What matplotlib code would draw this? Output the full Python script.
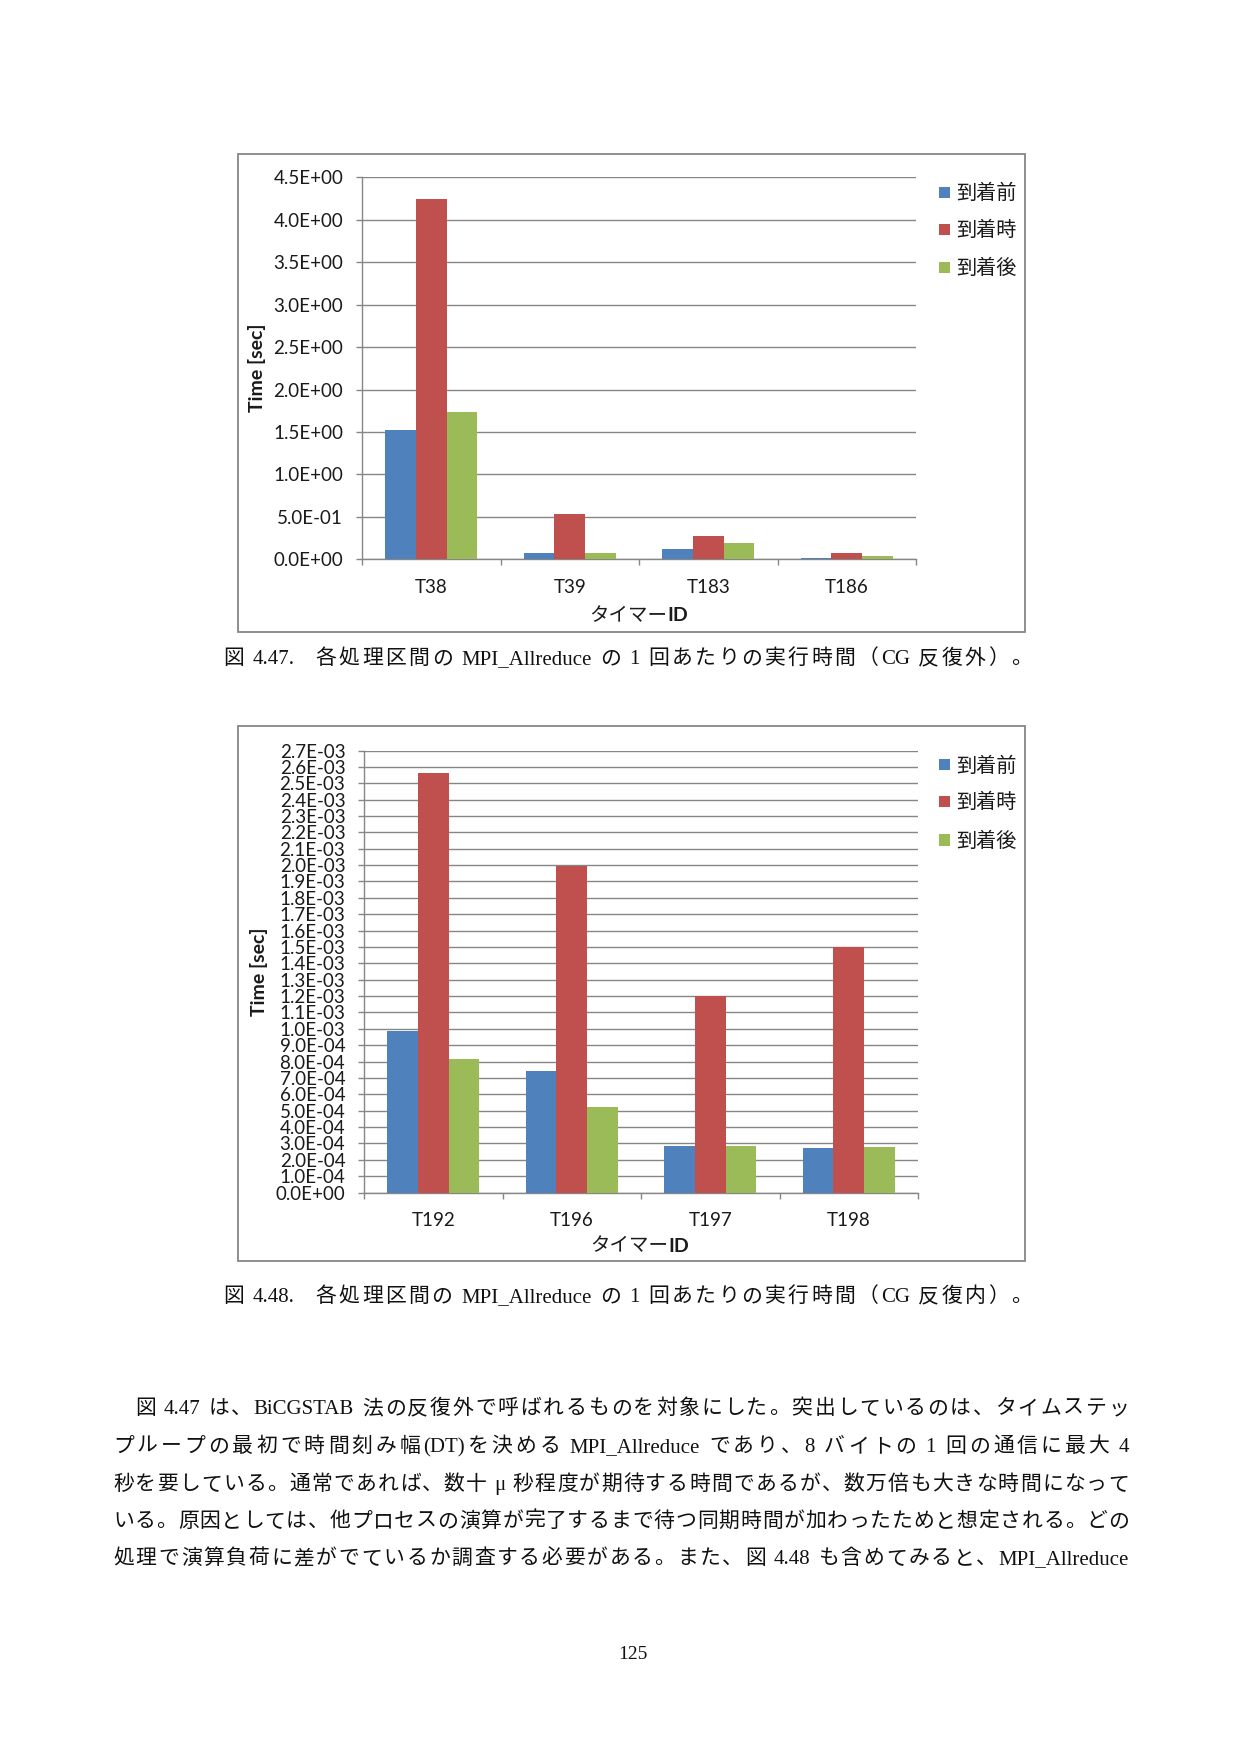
import matplotlib
matplotlib.use('Agg')
import matplotlib.pyplot as plt
from matplotlib.patches import Rectangle
from matplotlib.ticker import FixedLocator
import numpy as np

W, H = 1241, 1755

# ---------------- data ----------------
series = ['到着前', '到着時', '到着後']
colors = ['#4F81BD', '#C0504D', '#9BBB59']

timers_a = ['T38', 'T39', 'T183', 'T186']
before_a = [1.523, 0.075, 0.122, 0.016]
during_a = [4.244, 0.534, 0.275, 0.075]
after_a = [1.735, 0.075, 0.192, 0.039]
yticks_a = [0.0, 0.5, 1.0, 1.5, 2.0, 2.5, 3.0, 3.5, 4.0, 4.5]

timers_b = ['T192', 'T196', 'T197', 'T198']
before_b = [0.986e-3, 0.741e-3, 0.285e-3, 0.272e-3]
during_b = [2.563e-3, 1.995e-3, 1.200e-3, 1.500e-3]
after_b = [0.816e-3, 0.523e-3, 0.285e-3, 0.279e-3]
yticks_b = [i * 1e-4 for i in range(28)]

xlabel_kana = 'タイマー'
xlabel_id = 'ID'
ylabel = 'Time [sec]'

caption_a = '図 4.47.   各処理区間の MPI_Allreduce の 1 回あたりの実行時間（CG 反復外）。'
caption_b = '図 4.48.   各処理区間の MPI_Allreduce の 1 回あたりの実行時間（CG 反復内）。'
paragraph = [
    '図 4.47 は、BiCGSTAB 法の反復外で呼ばれるものを対象にした。突出しているのは、タイムステッ',
    'プループの最初で時間刻み幅(DT)を決める MPI_Allreduce であり、8 バイトの 1 回の通信に最大 4',
    '秒を要している。通常であれば、数十 μ 秒程度が期待する時間であるが、数万倍も大きな時間になって',
    'いる。原因としては、他プロセスの演算が完了するまで待つ同期時間が加わったためと想定される。どの',
    '処理で演算負荷に差がでているか調査する必要がある。また、図 4.48 も含めてみると、MPI_Allreduce',
]
page_no = '125'

# ---------------- styling ----------------
SANS = ['Lato', 'Noto Sans CJK JP', 'DejaVu Sans']
SERIF = ['Liberation Serif', 'Noto Sans CJK JP', 'DejaVu Sans']
GRID = '#868686'
TXT = '#1a1a1a'
plt.rcParams['font.family'] = SANS

fig = plt.figure(figsize=(W / 100, H / 100), dpi=100)
fig.patch.set_facecolor('white')
renderer = fig.canvas.get_renderer()


def rect(l, t, r, b):
    return [l / W, 1 - b / H, (r - l) / W, (b - t) / H]


def fx(x):
    return x / W


def fy(y):
    return 1 - y / H


def chart(box, axrect, cats, vals, yticks, ylim, ylab_pos, xlab_pos, legend_x, legend_ys):
    l, t, r, b = box
    fig.patches.append(Rectangle((fx(l), fy(b)), (r - l) / W, (b - t) / H,
                                 transform=fig.transFigure, fill=False,
                                 edgecolor=GRID, linewidth=1.3))
    ax = fig.add_axes(rect(*axrect))
    x = np.arange(len(cats))
    w = 0.222
    for i, (v, c) in enumerate(zip(vals, colors)):
        ax.bar(x + (i - 1) * w, v, width=w, color=c, edgecolor='none', zorder=3)
    ax.set_xlim(-0.5, len(cats) - 0.5)
    ax.set_ylim(*ylim)
    ax.yaxis.set_major_locator(FixedLocator(yticks))
    ax.set_yticklabels([f'{v:.1E}' for v in yticks], fontsize=13.5, color=TXT)
    ax.set_xticks(x)
    ax.set_xticklabels(cats, fontsize=13.5, color=TXT)
    ax.xaxis.set_minor_locator(FixedLocator(np.arange(-0.5, len(cats), 1.0)))
    ax.tick_params(axis='x', which='major', length=0, pad=14)
    ax.tick_params(axis='x', which='minor', length=4.5, color=GRID, width=1.0, direction='out')
    ax.tick_params(axis='y', which='major', length=4, color=GRID, width=1.0, pad=9.5)
    ax.yaxis.grid(True, color=GRID, linewidth=1.0)
    ax.set_axisbelow(True)
    for s in ['top', 'right']:
        ax.spines[s].set_visible(False)
    for s in ['left', 'bottom']:
        ax.spines[s].set_color(GRID)
        ax.spines[s].set_linewidth(1.0)
    ax.set_facecolor('white')
    # axis titles
    fig.text(fx(ylab_pos[0]), fy(ylab_pos[1]), ylabel, rotation=90, ha='center', va='center',
             fontsize=14, fontweight='bold', color=TXT)
    t1 = fig.text(0, fy(xlab_pos[1]), xlabel_kana, ha='left', va='center',
                  fontsize=14, color=TXT)
    t2 = fig.text(0, fy(xlab_pos[1]), xlabel_id, ha='left', va='center',
                  fontsize=14, fontweight='bold', color=TXT)
    w1 = t1.get_window_extent(renderer).width
    w2 = t2.get_window_extent(renderer).width
    x0 = xlab_pos[0] - (w1 + w2) / 2
    t1.set_x(fx(x0))
    t2.set_x(fx(x0 + w1))
    # legend
    for name, c, yy in zip(series, colors, legend_ys):
        fig.patches.append(Rectangle((fx(legend_x), fy(yy + 5.5)), 11 / W, 11 / H,
                                     transform=fig.transFigure, facecolor=c, edgecolor='none'))
        fig.text(fx(legend_x + 17), fy(yy), name, ha='left', va='center',
                 fontsize=14.5, color=TXT)
    return ax


chart((238, 154, 1025, 632), (362, 177.3, 916, 559.3), timers_a,
      [before_a, during_a, after_a], yticks_a, (0, 4.5),
      (256.5, 368), (639, 615.5), 939, [192.7, 229.3, 267.7])
chart((238, 726, 1025, 1261), (364, 750.5, 918, 1192.6), timers_b,
      [before_b, during_b, after_b], yticks_b, (0, 2.7e-3),
      (259, 972), (640, 1246), 939, [765, 801, 840])


def tokenize(s):
    toks = []
    cur = ''
    spaces = 0
    for ch in s:
        if ch == ' ':
            if cur:
                toks.append((cur, spaces))
                cur = ''
                spaces = 0
            spaces += 1
        elif ord(ch) < 128:
            cur += ch
        else:
            if cur:
                toks.append((cur, spaces))
                cur = ''
                spaces = 0
            toks.append((ch, spaces))
            spaces = 0
    if cur:
        toks.append((cur, spaces))
    return toks


def justified(s, x0, x1, ybase, fontsize, family):
    toks = tokenize(s)
    sp = fontsize * 100 / 72 * 0.3
    objs = []
    widths = []
    for tok, _ in toks:
        t = fig.text(0, fy(ybase), tok, ha='left', va='baseline', fontsize=fontsize,
                     family=family, color='#111111')
        objs.append(t)
        widths.append(t.get_window_extent(renderer).width)
    total = sum(widths) + sum(n for _, n in toks) * sp
    gap = (x1 - x0 - total) / max(len(toks) - 1, 1)
    x = x0
    for (tok, n), t, wd in zip(toks, objs, widths):
        x += n * sp
        t.set_x(fx(x))
        x += wd + gap


justified(caption_a, 223, 1032, 664, 15, SERIF)
justified(caption_b, 223, 1032, 1302, 15, SERIF)
line_y = [1407, 1445, 1483, 1520, 1557]
for i, (ln, yy) in enumerate(zip(paragraph, line_y)):
    justified(ln, 135 if i == 0 else 113, 1129, yy + 7, 15, SERIF)

fig.text(fx(633), fy(1653 + 6), page_no, ha='center', va='baseline', fontsize=14,
         family=SERIF, color='#111111')

fig.savefig('out.png', dpi=100, facecolor='white')
